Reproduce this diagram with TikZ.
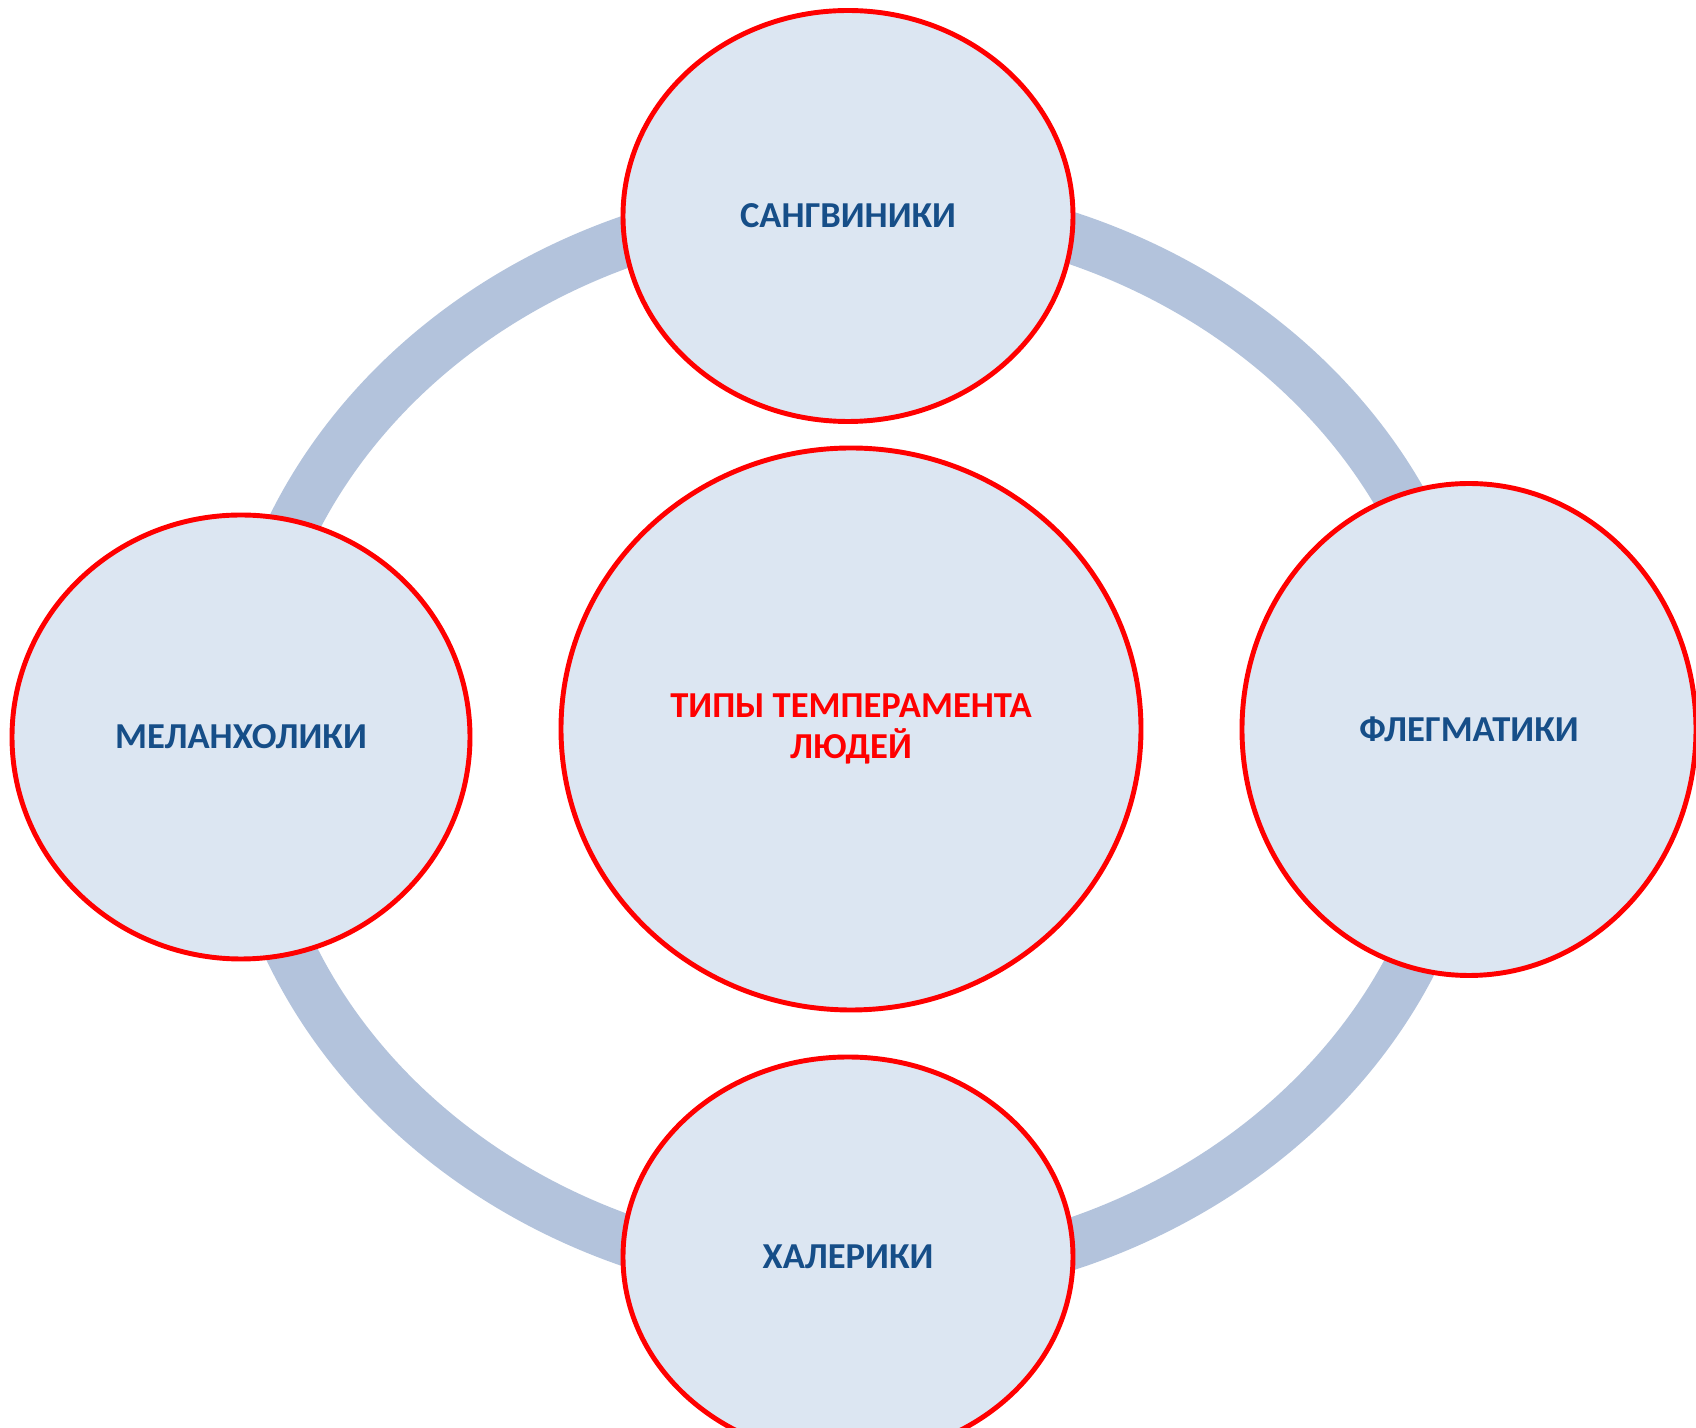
\documentclass[tikz,border=0pt]{standalone}
\usepackage{fontspec}
\setmainfont{Carlito}
\usepackage{xcolor}
\usetikzlibrary{shapes.geometric}
\definecolor{ringblue}{RGB}{179,195,220}
\definecolor{fillblue}{RGB}{220,230,242}
\definecolor{textblue}{RGB}{22,78,136}
\tikzset{
  temper/.style={ellipse, draw=red, line width=1.4pt, fill=fillblue, inner sep=0pt,
    font=\bfseries\fontsize{10.4}{11.6}\selectfont, text=textblue, align=center}
}

\begin{document}
\begin{tikzpicture}
            \useasboundingbox (0,0) rectangle (16.96,14.28);
            \clip (0,0) rectangle (16.96,14.28);
            %绘制外圈
            \draw[ringblue, line width=0.51cm] (8.54,6.87) ellipse [x radius=6.12, y radius=5.38];
            %绘制四种气质
            \node[temper, minimum width=4.5cm, minimum height=4.11cm] (sang) at (8.48,12.12) {САНГВИНИКИ};
            \node[temper, minimum width=4.58cm, minimum height=4.44cm] (mel) at (2.41,6.91) {МЕЛАНХОЛИКИ};
            \node[temper, minimum width=4.54cm, minimum height=4.92cm] (flegm) at (14.69,6.985) {ФЛЕГМАТИКИ};
            \node[temper, minimum width=4.5cm, minimum height=4.0cm] (chol) at (8.48,1.71) {ХАЛЕРИКИ};
            %绘制中心
            \node[temper, text=red, minimum width=5.8cm, minimum height=5.62cm] (types) at (8.51,6.99) {ТИПЫ ТЕМПЕРАМЕНТА\\ЛЮДЕЙ};
        \end{tikzpicture}
\end{document}
